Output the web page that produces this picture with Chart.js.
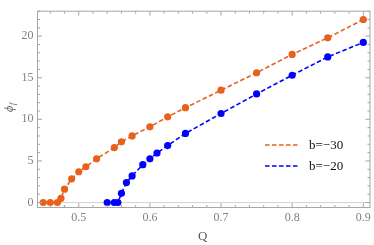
<!DOCTYPE html>
<html>
<head>
<meta charset="utf-8">
<script src="https://cdn.jsdelivr.net/npm/chart.js@4/dist/chart.umd.min.js"></script>
<style>
    html, body { margin: 0; padding: 0; background: #fff; }
    #wrap { width: 374px; height: 245px; }
</style>
</head>
<body>
<div id="wrap"><canvas id="phiChart" width="374" height="245"></canvas></div>
<script>

// b = -30
const qB30   = [0.45, 0.46, 0.47, 0.475, 0.48, 0.49, 0.5, 0.51, 0.525, 0.55, 0.56, 0.575, 0.6, 0.625, 0.65, 0.7, 0.75, 0.8, 0.85, 0.9];
const phiB30 = [0, 0, 0, 0.5, 1.6, 2.85, 3.7, 4.3, 5.25, 6.6, 7.3, 8.0, 9.1, 10.3, 11.4, 13.5, 15.6, 17.8, 19.8, 22.0];

// b = -20
const qB20   = [0.54, 0.55, 0.555, 0.56, 0.567, 0.575, 0.59, 0.6, 0.61, 0.625, 0.65, 0.7, 0.75, 0.8, 0.85, 0.9];
const phiB20 = [0, 0, 0, 1.1, 2.4, 3.2, 4.55, 5.25, 5.95, 6.85, 8.3, 10.7, 13.05, 15.3, 17.5, 19.25];

const seriesLabels = ['b=\u221230', 'b=\u221220'];

// tick labels
const xTicks = [0.5, 0.6, 0.7, 0.8, 0.9];
const yTicks = [0, 5, 10, 15, 20];
const xMinorStep = 0.02;
const yMinorStep = 1;

const ORANGE = '#e8601c';
const BLUE = '#0000ff';
const FRAME = '#a6a6a6';
const SERIF = '"Liberation Serif", "DejaVu Serif", serif';

let toPoints = (xs, ys) => xs.map((x, i) => ({ x: x, y: ys[i] }));

/**
 * frame, inner ticks, zero line, axis titles, legend
 */
const framePlugin = {
    id: 'framePlugin',
    beforeDatasetsDraw(chart) {
        const ctx = chart.ctx;
        const a = chart.chartArea;
        const y0 = chart.scales.y.getPixelForValue(0);
        ctx.save();
        ctx.strokeStyle = '#d4d4d4';
        ctx.lineWidth = 1;
        ctx.beginPath();
        ctx.moveTo(a.left, y0);
        ctx.lineTo(a.right, y0);
        ctx.stroke();
        ctx.restore();
    },
    afterDraw(chart) {
        const ctx = chart.ctx;
        const a = chart.chartArea;
        const xs = chart.scales.x;
        const ys = chart.scales.y;
        ctx.save();
        ctx.strokeStyle = FRAME;
        ctx.lineWidth = 1;
        ctx.strokeRect(a.left, a.top, a.right - a.left, a.bottom - a.top);

        ctx.beginPath();
        // x ticks, bottom and top
        for (let v = 0.44; v <= xs.max + 1e-9; v += xMinorStep) {
            const r = Math.round(v * 100) / 100;
            if (r < xs.min) continue;
            const px = xs.getPixelForValue(r);
            const major = Math.abs(r * 10 - Math.round(r * 10)) < 1e-6;
            const len = major ? 4.5 : 2.5;
            ctx.moveTo(px, a.bottom); ctx.lineTo(px, a.bottom - len);
            ctx.moveTo(px, a.top); ctx.lineTo(px, a.top + len);
        }
        // y ticks, left and right
        for (let v = 0; v <= ys.max; v += yMinorStep) {
            const py = ys.getPixelForValue(v);
            const len = v % 5 === 0 ? 4.5 : 2.5;
            ctx.moveTo(a.left, py); ctx.lineTo(a.left + len, py);
            ctx.moveTo(a.right, py); ctx.lineTo(a.right - len, py);
        }
        ctx.stroke();

        // axis titles
        ctx.fillStyle = '#555';
        ctx.textAlign = 'center';
        ctx.textBaseline = 'middle';
        ctx.font = '13px ' + SERIF;
        ctx.fillText('Q', (a.left + a.right) / 2 - 1, 237);

        ctx.translate(10, 108);
        ctx.rotate(-Math.PI / 2);
        ctx.font = 'italic 12px ' + SERIF;
        ctx.textAlign = 'left';
        ctx.fillText('\u03d5', -4, 0);
        ctx.font = 'italic 8px ' + SERIF;
        ctx.fillText('f', 3, 3);
        ctx.setTransform(1, 0, 0, 1, 0, 0);

        // legend
        const legendY = [145, 166];
        chart.data.datasets.forEach((ds, i) => {
            ctx.strokeStyle = ds.borderColor;
            ctx.lineWidth = 1.6;
            ctx.setLineDash([4.5, 2.5]);
            ctx.beginPath();
            ctx.moveTo(265, legendY[i]);
            ctx.lineTo(299, legendY[i]);
            ctx.stroke();
            ctx.setLineDash([]);
            ctx.fillStyle = '#111';
            ctx.font = '13px ' + SERIF;
            ctx.textAlign = 'left';
            ctx.textBaseline = 'middle';
            ctx.fillText(ds.label, 309, legendY[i] + 1);
        });
        ctx.restore();
    }
};

let makeDataset = (label, xs, ys, color) => ({
    label: label,
    data: toPoints(xs, ys),
    showLine: true,
    borderColor: color,
    backgroundColor: color,
    borderWidth: 1.6,
    borderDash: [4.5, 2.5],
    pointRadius: 3.6,
    pointBorderWidth: 0,
    pointBackgroundColor: color,
    clip: false
});

let config = {
    type: 'scatter',
    data: {
        datasets: [
            makeDataset(seriesLabels[0], qB30, phiB30, ORANGE),
            makeDataset(seriesLabels[1], qB20, phiB20, BLUE)
        ]
    },
    options: {
        responsive: false,
        animation: false,
        events: [],
        layout: { padding: { top: 2.5, right: 2, left: 0, bottom: 0 } },
        plugins: {
            legend: { display: false },
            tooltip: { enabled: false }
        },
        scales: {
            x: {
                type: 'linear',
                min: 0.442,
                max: 0.9094,
                grid: { display: false, drawTicks: false },
                border: { display: false },
                afterBuildTicks: (scale) => { scale.ticks = xTicks.map(v => ({ value: v })); },
                afterFit: (scale) => { scale.height = 37.5; },
                ticks: {
                    color: '#808080',
                    padding: 3,
                    maxRotation: 0,
                    font: { family: SERIF, size: 12 },
                    callback: (v) => v.toFixed(1)
                }
            },
            y: {
                type: 'linear',
                min: -0.6,
                max: 23,
                grid: { display: false, drawTicks: false },
                border: { display: false },
                afterBuildTicks: (scale) => { scale.ticks = yTicks.map(v => ({ value: v })); },
                afterFit: (scale) => { scale.width = 37.5; },
                ticks: {
                    color: '#808080',
                    padding: 4,
                    font: { family: SERIF, size: 12 },
                    callback: (v) => String(v)
                }
            }
        }
    },
    plugins: [framePlugin]
};

let phiChart = new Chart(document.getElementById('phiChart'), config);
</script>
</body>
</html>
